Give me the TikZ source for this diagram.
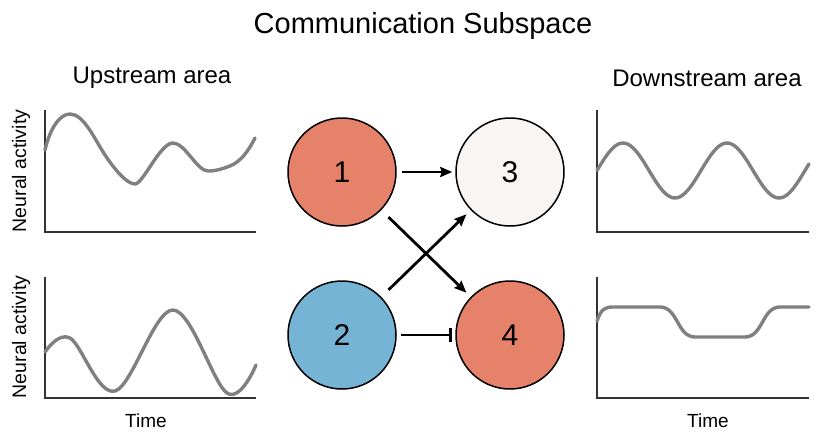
\documentclass[tikz,border=0pt]{standalone}
\usepackage{fontspec}
\setmainfont{Liberation Sans}
\usetikzlibrary{arrows.meta}
\definecolor{salmon}{HTML}{E6816A}
\definecolor{skyb}{HTML}{76B4D6}
\definecolor{offw}{HTML}{F8F5F3}
\definecolor{trace}{HTML}{808080}
\definecolor{axisc}{HTML}{333333}
\begin{document}
\begin{tikzpicture}[x=1pt,y=-1pt,
  neuron/.style={circle,draw=black,line width=1.5pt,minimum size=108pt,inner sep=0pt,font=\fontsize{30}{34}\selectfont},
  conn/.style={line width=2.8pt,-{Stealth[length=12pt,width=10pt,inset=1.5pt]}},
  inhib/.style={line width=2.8pt,-{Bar[width=14pt,line width=3.5pt]}},
  axisline/.style={draw=axisc,line width=1.2pt},
  tracel/.style={draw=trace,line width=3.4pt,line cap=round,line join=round},
  ylab/.style={rotate=90,font=\fontsize{19.5}{22}\selectfont},
  xlab/.style={font=\fontsize{19}{22}\selectfont},
  area/.style={font=\fontsize{24}{28}\selectfont}]
\useasboundingbox (0,0) rectangle (830,442);

% title
\node[font=\fontsize{29}{34}\selectfont] (title) at (423,26) {Communication Subspace};
\node[area] (up) at (152,78) {Upstream area};
\node[area] (down) at (707,78) {Downstream area};

% left axes
\draw[axisline] (45,110) -- (45,232) -- (256,232);
\draw[axisline] (45,277) -- (45,398) -- (256,398);
% right axes
\draw[axisline] (597,110) -- (597,232) -- (809,232);
\draw[axisline] (597,277) -- (597,398) -- (809,398);

\node[ylab] (ny1) at (21,171) {Neural activity};
\node[ylab] (ny2) at (21,337) {Neural activity};
\node[xlab] (t1) at (146,421) {Time};
\node[xlab] (t2) at (708,421) {Time};

% traces
\draw[tracel] (45,150) .. controls (50,128) and (60,114) .. (70,114)
  .. controls (84,114) and (95,140) .. (105,155)
  .. controls (115,170) and (127,184) .. (135,184)
  .. controls (143,184) and (160,143) .. (173,143)
  .. controls (185,143) and (197,171) .. (208,171)
  .. controls (216,171) and (222,169) .. (230,166)
  .. controls (240,162) and (248,152) .. (255,138);
\draw[tracel] plot[smooth,tension=0.6] coordinates {(45,352) (70,338) (115,391) (173,310) (227,393) (256,365)};
\draw[tracel] plot[domain=0:212,samples=90,smooth] ({597+\x},{170.5-27.5*cos(3.461538*(\x-26))});
\draw[tracel] (597,321) .. controls (601,309) and (605,307) .. (613,307) -- (660,307)
  .. controls (678,307) and (677,337) .. (695,337) -- (745,337)
  .. controls (763,337) and (762,307) .. (780,307) -- (809,307);

% neurons
\node[neuron,fill=salmon] (n1) at (342,172) {1};
\node[neuron,fill=offw] (n3) at (510,172) {3};
\node[neuron,fill=skyb] (n2) at (342,335) {2};
\node[neuron,fill=salmon] (n4) at (510,335) {4};

\draw[conn,shorten <=5pt,shorten >=3pt] (n1) -- (n3);
\draw[conn,shorten <=10pt,shorten >=6pt] (n1) -- (n4);
\draw[conn,shorten <=10pt,shorten >=6pt] (n2) -- (n3);
\draw[inhib,shorten <=4pt,shorten >=3pt] (n2) -- (n4);
\end{tikzpicture}
\end{document}
